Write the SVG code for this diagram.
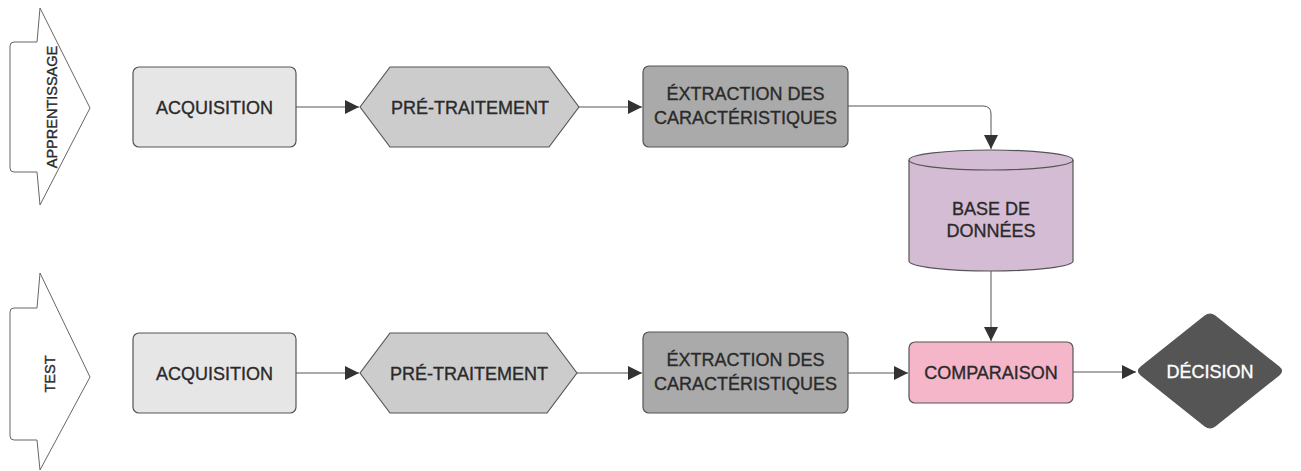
<svg xmlns="http://www.w3.org/2000/svg" width="1301" height="471" viewBox="0 0 1301 471">
<defs>
<marker id="ah" viewBox="0 0 10 10" refX="10" refY="5" markerWidth="14" markerHeight="14" markerUnits="userSpaceOnUse" orient="auto">
<path d="M0,0 L10,5 L0,10 z" fill="#333"/>
</marker>
<style>
.lbl{font-family:"Liberation Sans",Arial,sans-serif;font-size:18px;fill:#2a2a2a;stroke:#2a2a2a;stroke-width:0.35;text-anchor:middle;}
.stg{fill:#fff;stroke:#666;stroke-width:1;stroke-linejoin:round;}
.n{stroke:#555;stroke-width:1.2;stroke-linejoin:round;}
.acq{fill:#e6e6e6;}
.pre{fill:#cccccc;}
.ext{fill:#aaaaaa;}
.db{fill:#d5bcd5;}
.cmp{fill:#f4b6c8;}
.dec{fill:#555555;}
.c{fill:none;stroke:#555;stroke-width:1;marker-end:url(#ah);}
</style>
</defs>
<rect width="1301" height="471" fill="#fff"/>

<g id="stage-apprentissage">
<path class="stg" d="M14,42 H37 L40,8 L90,108 L40,205 L37,172 H14 Q10,172 10,168 V46 Q10,42 14,42 Z"/>
<text class="lbl" transform="translate(57,107) rotate(-90)" style="font-size:14.5px">APPRENTISSAGE</text>
</g>
<g id="stage-test">
<path class="stg" d="M14,308 H37 L40,273 L90,377 L40,470 L37,440 H14 Q10,440 10,436 V312 Q10,308 14,308 Z"/>
<text class="lbl" transform="translate(55,374) rotate(-90)" style="font-size:14.5px">TEST</text>
</g>

<g id="connectors">
<path class="c" d="M296,107 H359"/>
<path class="c" d="M579,107 H642"/>
<path class="c" d="M848,106 H983 Q991,106 991,114 V149"/>
<path class="c" d="M991,271 V341"/>
<path class="c" d="M296,373 H359"/>
<path class="c" d="M577,373 H642"/>
<path class="c" d="M848,373 H908"/>
<path class="c" d="M1073,372 H1136"/>
</g>

<g id="acq1">
<rect class="n acq" x="133" y="67" width="163" height="80" rx="6"/>
<text class="lbl" x="214.5" y="113.5">ACQUISITION</text>
</g>
<g id="pre1">
<path class="n pre" d="M360,107 L390,67 H549 L579,107 L549,147 H390 Z"/>
<text class="lbl" x="470" y="113.5">PRÉ-TRAITEMENT</text>
</g>
<g id="ext1">
<rect class="n ext" x="643" y="66" width="205" height="81" rx="6"/>
<text class="lbl" x="745.5" y="100">ÉXTRACTION DES</text>
<text class="lbl" x="745.5" y="124">CARACTÉRISTIQUES</text>
</g>
<g id="db">
<path class="n db" d="M909,160 A82,10 0 0 1 1073,160 V261 A82,10 0 0 1 909,261 Z"/>
<path class="n" fill="none" d="M909,160 A82,10 0 0 0 1073,160"/>
<text class="lbl" x="991" y="215">BASE DE</text>
<text class="lbl" x="991" y="237">DONNÉES</text>
</g>

<g id="acq2">
<rect class="n acq" x="133" y="333" width="163" height="80" rx="6"/>
<text class="lbl" x="214.5" y="379.5">ACQUISITION</text>
</g>
<g id="pre2">
<path class="n pre" d="M360,373 L390,333 H547 L577,373 L547,413 H390 Z"/>
<text class="lbl" x="469" y="379.5">PRÉ-TRAITEMENT</text>
</g>
<g id="ext2">
<rect class="n ext" x="643" y="332" width="205" height="81" rx="6"/>
<text class="lbl" x="745.5" y="366">ÉXTRACTION DES</text>
<text class="lbl" x="745.5" y="390">CARACTÉRISTIQUES</text>
</g>
<g id="cmp">
<rect class="n cmp" x="909" y="342" width="164" height="61" rx="6"/>
<text class="lbl" x="991" y="378.5">COMPARAISON</text>
</g>
<g id="dec">
<path class="n dec" d="M1141,367 L1205,316 Q1210,312 1215,316 L1279,367 Q1284,371 1279,375 L1215,426 Q1210,430 1205,426 L1141,375 Q1136,371 1141,367 Z"/>
<text class="lbl" x="1210" y="377.5" style="fill:#fff;stroke:#fff">DÉCISION</text>
</g>
</svg>
